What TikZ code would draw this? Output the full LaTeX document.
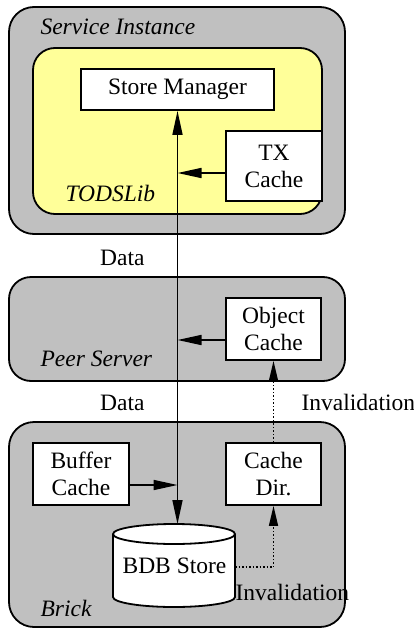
\documentclass[tikz,border=0pt]{standalone}
\usepackage{fontspec}
\setmainfont{Liberation Serif}
\newfontfamily\diagfont{Liberation Serif}
\usetikzlibrary{arrows.meta}
\definecolor{boxgray}{RGB}{192,192,192}
\definecolor{libyellow}{RGB}{255,255,153}
\begin{document}
\begin{tikzpicture}[x=1pt,y=-1pt,
  every node/.style={font=\diagfont\fontsize{23.5}{27}\selectfont},
  group/.style={draw=black, line width=1.8pt, fill=boxgray, rounded corners=25pt, inner sep=0pt},
  comp/.style={draw=black, line width=1.8pt, fill=white, align=center, inner sep=0pt},
  arr/.style={line width=1.6pt, -{Triangle[length=24pt,width=10pt]}},
  inv/.style={line width=1.5pt, dotted, -{Triangle[length=20pt,width=9pt]}},
  lbl/.style={anchor=base west, font=\diagfont\fontsize{23.5}{27}\selectfont\itshape},
  txt/.style={font=\diagfont\fontsize{23.5}{27}\selectfont}
]
\useasboundingbox (0,0) rectangle (414,629);
% groups
\node[group, minimum width=336pt, minimum height=227pt] (si) at (177,120.5) {};
\node[group, fill=libyellow, rounded corners=22pt, minimum width=289pt, minimum height=166pt] (lib) at (177.5,131) {};
\node[group, rounded corners=22pt, minimum width=336pt, minimum height=104pt] (peer) at (177,329) {};
\node[group, minimum width=336pt, minimum height=205pt] (brick) at (177,524.5) {};
% group labels
\node[lbl] (silbl) at (37,34) {Service Instance};
\node[lbl] (liblbl) at (62,201) {TODSLib};
\node[lbl] (peerlbl) at (37,366) {Peer Server};
\node[lbl] (bricklbl) at (37,616) {Brick};
% components
\node[comp, minimum width=193pt, minimum height=41pt] (smgr) at (177.5,89.5) {Store Manager};
\node[comp, minimum width=96pt, minimum height=70pt] (txc) at (274,166) {TX\\Cache};
\node[comp, minimum width=95pt, minimum height=62pt] (objc) at (273.5,329) {Object\\Cache};
\node[comp, minimum width=96pt, minimum height=62pt] (bufc) at (81,474) {Buffer\\Cache};
\node[comp, minimum width=95pt, minimum height=62pt] (cdir) at (273.5,474) {Cache\\Dir.};
% cylinder
\filldraw[fill=white, draw=black, line width=1.8pt]
  (113,534) -- (113,597) arc (180:360:61pt and 10pt) -- (235,534) arc (0:180:61pt and 10pt) -- cycle;
\draw[line width=1.8pt] (113,534) arc (180:360:61pt and 10pt);
\node[txt] (bdb) at (174.5,566) {BDB Store};
\coordinate (bdbtop) at (177.5,524);
\coordinate (bdbr) at (235,567);
% junction points
\coordinate (t1) at (177.5,173);
\coordinate (t2) at (177.5,340);
\coordinate (t3) at (177.5,485);
% connectors
\draw[line width=1.6pt, {Triangle[length=24pt,width=10pt]}-{Triangle[length=24pt,width=10pt]}] (smgr.south) -- (bdbtop);
\draw[arr] (txc.west |- t1) -- (t1);
\draw[arr] (objc.west |- t2) -- (t2);
\draw[arr] (bufc.east |- t3) -- (t3);
\draw[inv] (cdir.north) -- (objc.south);
\draw[inv] (bdbr) -- (bdbr -| cdir.south) -- (cdir.south);
% labels
\node[txt, anchor=base east] (d1) at (148,265) {Data};
\node[txt, anchor=base east] (d2) at (148,410) {Data};
\node[txt, anchor=base west] (i1) at (298,410) {Invalidation};
\node[txt, anchor=base west] (i2) at (232,600) {Invalidation};
\end{tikzpicture}
\end{document}
